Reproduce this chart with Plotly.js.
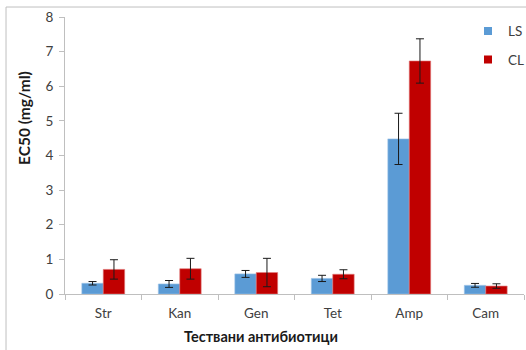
<!DOCTYPE html>
<html>
<head>
<meta charset="utf-8">
<script src="https://cdn.plot.ly/plotly-3.0.1.min.js"></script>
<style>
  html, body { margin: 0; padding: 0; background: #fff; }
  #chart { width: 526px; height: 350px; }
</style>
</head>
<body>
<div id="chart"></div>
<script>
// Tested antibiotics and EC50 values (mg/ml) with standard deviations
const antibiotics = ["Str", "Kan", "Gen", "Tet", "Amp", "Cam"];
const lsValues = [0.31, 0.29, 0.58, 0.45, 4.48, 0.25];
const lsErrors = [0.05, 0.10, 0.10, 0.09, 0.74, 0.055];
const clValues = [0.71, 0.73, 0.62, 0.57, 6.73, 0.23];
const clErrors = [0.28, 0.30, 0.41, 0.13, 0.64, 0.065];
const yTicks = [0, 1, 2, 3, 4, 5, 6, 7, 8];
const seriesNames = ["LS", "CL"];
const seriesColors = ["#5B9BD5", "#C00000"];

const font = "Lato, 'Liberation Sans', sans-serif";
const labelColor = "#404040";

const errStyle = { type: "data", visible: true, color: "#1a1a1a", thickness: 1, width: 4 };

const traces = [
  {
    type: "bar", name: seriesNames[0], showlegend: false,
    x: antibiotics, y: lsValues,
    error_y: Object.assign({ array: lsErrors }, errStyle),
    marker: { color: seriesColors[0], line: { color: "#9cc3e8", width: 0.6 } }
  },
  {
    type: "bar", name: seriesNames[1], showlegend: false,
    x: antibiotics, y: clValues,
    error_y: Object.assign({ array: clErrors }, errStyle),
    marker: { color: seriesColors[1], line: { color: "#e07a7a", width: 0.6 } }
  }
];

// legend keys: small square swatches for each series
seriesNames.forEach((name, i) => {
  traces.push({
    type: "scatter", mode: "markers", name: name,
    legendgroup: "g" + i,
    x: [null], y: [null],
    marker: { symbol: "square", size: 8, color: seriesColors[i] },
    hoverinfo: "skip"
  });
});

const layout = {
  width: 526, height: 350,
  margin: { l: 65, r: 2, t: 17, b: 56, autoexpand: false },
  paper_bgcolor: "#fff", plot_bgcolor: "#fff",
  font: { family: font, size: 13.5, color: labelColor },
  barmode: "group",
  bargap: 0.44,
  bargroupgap: 0,
  showlegend: true,
  legend: {
    x: 0.878, y: 1.005, xanchor: "left", yanchor: "top",
    bgcolor: "rgba(0,0,0,0)",
    font: { family: font, size: 13.5, color: labelColor },
    traceorder: "grouped", tracegroupgap: 8,
    itemwidth: 30
  },
  xaxis: {
    type: "category",
    showgrid: false, zeroline: false,
    showline: true, linecolor: "#bfbfbf", linewidth: 1,
    ticks: "outside", tickson: "boundaries", ticklen: 5, tickcolor: "#bfbfbf",
    ticklabelstandoff: 7,
    tickfont: { family: font, size: 13.5, color: labelColor }
  },
  yaxis: {
    range: [0, 8],
    tickvals: yTicks,
    showgrid: false, zeroline: false,
    showline: true, linecolor: "#bfbfbf", linewidth: 1,
    ticks: "outside", ticklen: 5, tickcolor: "#bfbfbf",
    ticklabelstandoff: 3,
    tickfont: { family: font, size: 13.5, color: labelColor }
  },
  annotations: [
    // vertical axis title
    { text: "<b>EC50 (mg/ml)</b>", xref: "paper", yref: "paper",
      x: -0.0895, y: 0.635, xanchor: "center", yanchor: "middle",
      textangle: -90, showarrow: false,
      font: { family: font, size: 15.5, color: "#1a1a1a" } },
    // horizontal axis title
    { text: "<b>Тествани антибиотици</b>", xref: "paper", yref: "paper",
      x: 0.427, y: -0.155, xanchor: "center", yanchor: "middle",
      showarrow: false,
      font: { family: font, size: 14.5, color: "#1a1a1a" } }
  ],
  shapes: [
    // outer chart frame (left and top edges)
    { type: "line", xref: "paper", yref: "paper",
      x0: -0.1285, x1: -0.1285, y0: -0.3, y1: 1.036,
      line: { color: "#bfbfbf", width: 1 } },
    { type: "line", xref: "paper", yref: "paper",
      x0: -0.1285, x1: 1.01, y0: 1.036, y1: 1.036,
      line: { color: "#bfbfbf", width: 1 } }
  ]
};

Plotly.newPlot("chart", traces, layout, { displayModeBar: false, staticPlot: true });
</script>
</body>
</html>
